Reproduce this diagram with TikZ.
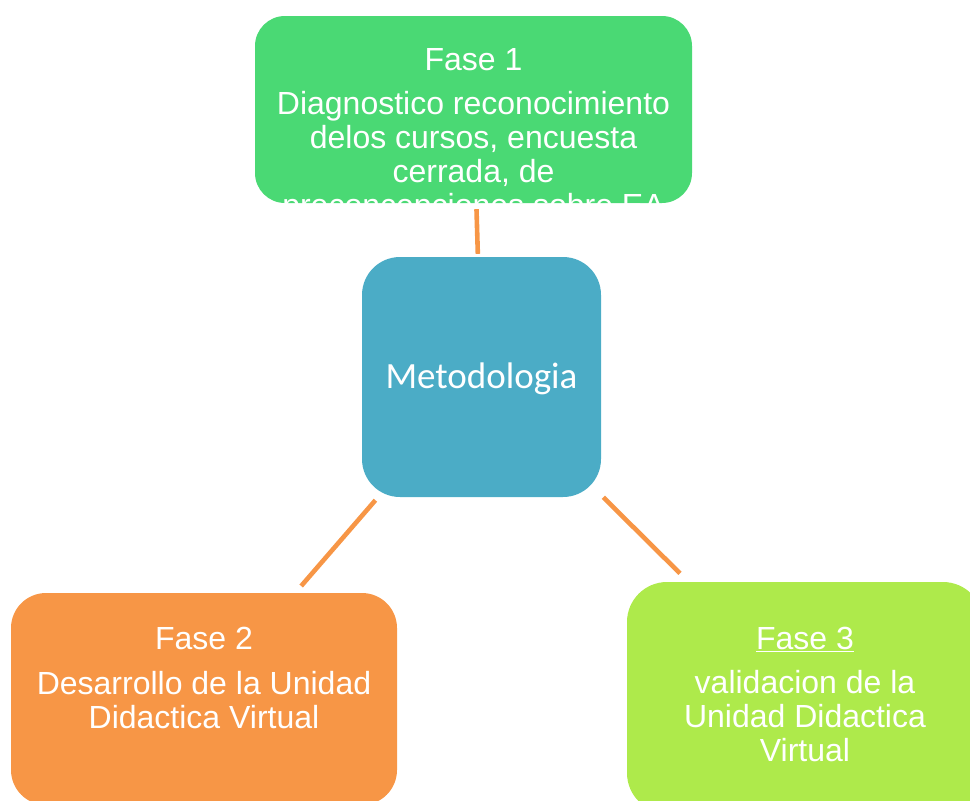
\documentclass[tikz,border=0pt]{standalone}
\usepackage{fontspec}
\setmainfont{Liberation Sans}
\newfontfamily\calibfont{Carlito}
\definecolor{fgreen}{HTML}{4AD974}
\definecolor{mblue}{HTML}{4BACC6}
\definecolor{corange}{HTML}{F79646}
\definecolor{lgreen}{HTML}{AEEA4B}
\begin{document}
\begin{tikzpicture}[x=1pt,y=-1pt,
  box/.style={rounded corners=#1, inner sep=0pt, draw=none},
  conn/.style={draw=corange, line width=4.6pt},
  ptxt/.style={text=white, font=\fontsize{32}{34}\selectfont, align=center, inner sep=0pt, anchor=north}]
\clip (0,0) rectangle (970,801);
\useasboundingbox (0,0) rectangle (970,801);
% boxes
\node[box=30pt, fill=fgreen, minimum width=437pt, minimum height=187pt] (f1) at (473.5,109.5) {};
\node[box=38pt, fill=mblue, minimum width=239pt, minimum height=240pt,
      text=white, font=\calibfont\fontsize{37}{40}\selectfont,
      text height=23.8pt, text depth=0pt] (m) at (481.5,377) {Metodologia};
\node[box=35pt, fill=corange, minimum width=386pt, minimum height=212pt] (f2) at (204,699) {};
\node[box=40pt, fill=lgreen, minimum width=356pt, minimum height=231pt] (f3) at (805,697.5) {};
% texts, clipped to their boxes
\begin{scope}
  \clip[rounded corners=30pt] (f1.south west) rectangle (f1.north east);
  \node[ptxt] (t1) at (473.5,48.5) {Fase 1\\[10pt]Diagnostico reconocimiento\\delos cursos, encuesta\\cerrada, de\\preconcepciones sobre EA};
\end{scope}
\node[ptxt] (t2) at (204,626.5) {Fase 2\\[11pt]Desarrollo de la Unidad\\Didactica Virtual};
\node[ptxt] (t3) at (805,626.5) {\underline{Fase 3}\\[10pt]validacion de la\\Unidad Didactica\\Virtual};
% connectors
\draw[conn, shorten <=6pt, shorten >=3pt] (f1) -- (m);
\draw[conn, shorten <=4pt, shorten >=9pt] (m) -- (f2);
\draw[conn, shorten <=3pt, shorten >=12pt] (m) -- (f3);
\end{tikzpicture}
\end{document}
